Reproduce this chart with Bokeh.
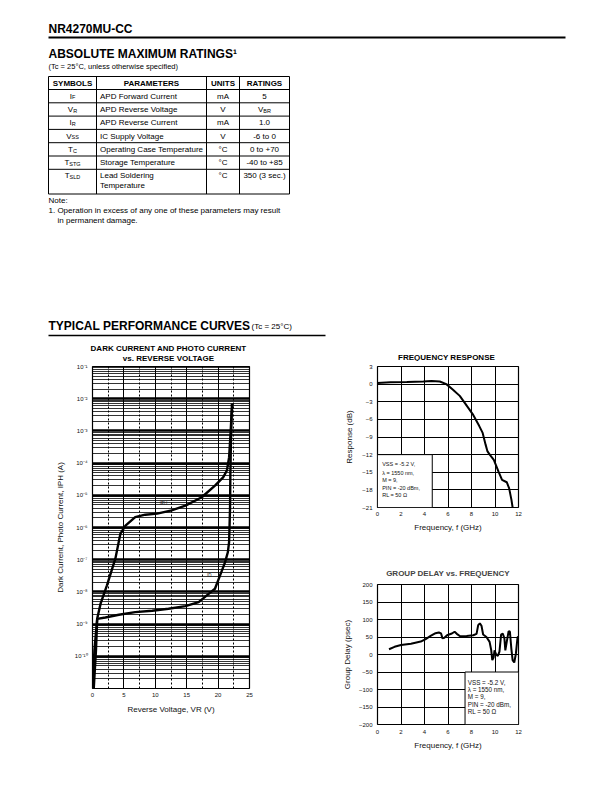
from bokeh.plotting import figure
from bokeh.layouts import column, row
from bokeh.models import Range1d, FixedTicker, CustomJSTickFormatter, Title
from bokeh.core.properties import value
from bokeh.embed import file_html
from bokeh.resources import INLINE

FONT = "Liberation Sans"

# ---------------- page texts / table data ----------------
part_number = "NR4270MU-CC"
ratings_title = "ABSOLUTE MAXIMUM RATINGS\u00b9"
ratings_cond = "(Tc = 25\u00b0C, unless otherwise specified)"
table_header = ["SYMBOLS", "PARAMETERS", "UNITS", "RATINGS"]
sym_base = ["I", "V", "I", "V", "T", "T", "T"]
sym_sub = ["F", "R", "R", "SS", "C", "STG", "SLD"]
params = [["APD Forward Current"], ["APD Reverse Voltage"], ["APD Reverse Current"],
          ["IC Supply Voltage"], ["Operating Case Temperature"], ["Storage Temperature"],
          ["Lead Soldering", "Temperature"]]
units = ["mA", "V", "mA", "V", "\u00b0C", "\u00b0C", "\u00b0C"]
rating_base = ["5", "V", "1.0", "-6 to 0", "0 to +70", "-40 to +85", "350 (3 sec.)"]
rating_sub = ["", "BR", "", "", "", "", ""]
note_lines = ["Note:", "1.  Operation in excess of any one of these parameters may result",
              "in permanent damage."]
section_title = "TYPICAL PERFORMANCE CURVES"
section_cond = "(Tc = 25\u00b0C)"

# ---------------- chart 1: dark / photo current ----------------
dc_title = ["DARK CURRENT AND PHOTO CURRENT", "vs. REVERSE VOLTAGE"]
dc_xlabel = "Reverse Voltage, VR (V)"
dc_ylabel = "Dark Current, Photo Current, IPH (A)"
dc_xticks = [0, 5, 10, 15, 20, 25]
dc_xminor = [2.5, 7.5, 12.5, 17.5, 22.5]
dc_yticks = [1e-10, 1e-9, 1e-8, 1e-7, 1e-6, 1e-5, 1e-4, 1e-3, 1e-2, 1e-1]
dc_ylabels = ["10\u207b\u00b9\u2070", "10\u207b\u2079", "10\u207b\u2078", "10\u207b\u2077",
              "10\u207b\u2076", "10\u207b\u2075", "10\u207b\u2074", "10\u207b\u00b3",
              "10\u207b\u00b2", "10\u207b\u00b9"]
dc_yminor = [m * d for d in [1e-11, 1e-10, 1e-9, 1e-8, 1e-7, 1e-6, 1e-5, 1e-4, 1e-3, 1e-2]
             for m in [2, 3, 4, 5, 6, 7, 8, 9]]

ph_v = [0.05, 0.3, 0.75, 1.3, 2.3, 3.65, 4.45, 5.25, 6.8, 8.4, 10.3, 12.6, 14.8, 17.4,
        19.5, 20.8, 21.4, 21.75, 21.95, 22.15, 22.3]
ph_i = [1e-11, 1.5e-10, 1.5e-9, 4.4e-9, 1.6e-8, 1.1e-7, 6.5e-7, 1.15e-6, 2.1e-6, 2.5e-6,
        2.7e-6, 3.4e-6, 4.8e-6, 8.7e-6, 2.0e-5, 3.6e-5, 5.9e-5, 1.5e-4, 6.3e-4, 3.5e-3, 7.0e-3]
dk_v = [0.2, 0.55, 0.75, 2.05, 4.2, 6.8, 9.5, 12.1, 14.8, 16.9, 18.5, 19.5, 20.3, 21.1,
        21.55, 21.75, 21.9, 21.95, 22.05, 22.2]
dk_i = [1e-11, 1.5e-10, 1.45e-9, 1.6e-9, 1.95e-9, 2.35e-9, 2.6e-9, 3.0e-9, 3.6e-9, 4.8e-9,
        8.7e-9, 1.25e-8, 3.2e-8, 8.3e-8, 1.7e-7, 3.5e-7, 3.8e-6, 4.1e-5, 5.0e-4, 7.0e-3]
ph_tag = ("IPH", 11.3, 5.6e-6)
dk_tag = ("ID", 18.6, 3.2e-8)

# ---------------- chart 2: frequency response ----------------
fr_title = "FREQUENCY RESPONSE"
fr_xlabel = "Frequency, f (GHz)"
fr_ylabel = "Response (dB)"
fr_xticks = [0, 2, 4, 6, 8, 10, 12]
fr_yticks = [3, 0, -3, -6, -9, -12, -15, -18, -21]
fr_f = [0, 1.1, 2.5, 3.9, 4.6, 5.3, 5.86, 6.4, 7.0, 7.5, 8.1, 8.65, 8.95, 9.2, 9.35, 9.55,
        9.9, 10.3, 10.6, 11.0, 11.2, 11.4, 11.5]
fr_db = [0.2, 0.3, 0.35, 0.45, 0.55, 0.45, 0.0, -0.9, -2.0, -3.4, -5.1, -7.1, -8.3, -10.3,
         -11.4, -12.0, -12.9, -14.9, -16.3, -16.7, -17.7, -19.7, -21.0]
fr_notes = ["VSS = -5.2 V,", "\u03bb = 1550 nm,", "M = 9,", "PIN = -20 dBm,", "RL = 50 \u03a9"]

# ---------------- chart 3: group delay ----------------
gd_title = "GROUP DELAY vs. FREQUENCY"
gd_xlabel = "Frequency, f (GHz)"
gd_ylabel = "Group Delay (psec)"
gd_xticks = [0, 2, 4, 6, 8, 10, 12]
gd_yticks = [200, 150, 100, 50, 0, -50, -100, -150, -200]
gd_f = [0.98, 1.45, 2.0, 2.85, 3.68, 4.1, 4.52, 4.94, 5.22, 5.41, 5.53, 5.69, 5.92, 6.33,
        6.56, 6.75, 7.03, 7.59, 8.15, 8.43, 8.57, 8.71, 8.85, 8.99, 9.27, 9.54, 9.68, 9.77,
        9.88, 9.96, 10.1, 10.24, 10.38, 10.52, 10.66, 10.8, 10.88, 11.0, 11.16, 11.27,
        11.39, 11.5, 11.64, 11.78, 11.92, 12.0]
gd_ps = [15, 22, 27, 31, 37, 44, 53, 61, 63, 60, 46, 48, 55, 60, 65, 59, 52, 53, 55, 59,
         84, 89, 82, 57, 50, 36, 12, -16, -9, 12, 0, -4, 8, 57, 60, 46, 12, 36, 67, 65,
         17, -16, -23, 3, 50, 50]
gd_notes = ["VSS = -5.2 V,", "\u03bb = 1550 nm,", "M = 9,", "PIN = -20 dBm,", "RL = 50 \u03a9"]

# ---------------- helpers ----------------
CW = {"I": .278, "V": .667, "T": .611, "F": .611, "R": .722, "S": .667, "C": .722,
      "G": .778, "L": .556, "D": .722, "B": .667}
TXT = "black"


def txt(fig, x, y, s, size, style="normal", align="left", baseline="middle",
        color=TXT, angle=0):
    fig.text(x=[x], y=[y], text=[s], text_font=value(FONT), text_font_size=size,
             text_font_style=style, text_align=align, text_baseline=baseline,
             text_color=color, angle=angle)


def sub_txt(fig, cx, y, base, sub, bsize=8, ssize=5.5):
    wb = sum(CW.get(c, .556) for c in base) * bsize
    ws = sum(CW.get(c, .6) for c in sub) * ssize
    x0 = cx - (wb + ws) / 2
    txt(fig, x0, y, base, f"{bsize}px")
    if sub:
        txt(fig, x0 + wb, y + 1.3, sub, f"{ssize}px")


# ---------------- top part of the page (down to the chart frames) ----------------
TOP_H = 361
top = figure(width=612, height=TOP_H, x_range=Range1d(0, 612), y_range=Range1d(TOP_H, 0),
             x_axis_type=None, y_axis_type=None, output_backend="svg",
             toolbar_location=None, min_border=0, outline_line_color=None)
top.grid.visible = False

txt(top, 48, 28, part_number, "12px", "bold")
top.line(x=[48, 565], y=[37, 37], line_color="black", line_width=2)
txt(top, 48, 53, ratings_title, "12px", "bold")
txt(top, 48, 66, ratings_cond, "7.5px")

col_x = [48, 96, 206, 239, 289]
row_y = [76, 89, 102.3, 115.6, 128.9, 142.2, 155.5, 168.8, 193.5]
top.segment(x0=[col_x[0]] * len(row_y), x1=[col_x[-1]] * len(row_y), y0=row_y, y1=row_y,
            line_color="black", line_width=1)
top.segment(x0=col_x, x1=col_x, y0=[row_y[0]] * len(col_x), y1=[row_y[-1]] * len(col_x),
            line_color="black", line_width=1)
hdr_cx = [(col_x[i] + col_x[i + 1]) / 2 for i in range(4)]
for i, h in enumerate(table_header):
    txt(top, hdr_cx[i], (row_y[0] + row_y[1]) / 2, h, "8px", "bold", "center")
for r in range(7):
    yc = (row_y[r + 1] + row_y[r + 2]) / 2 if r < 6 else row_y[7] + 6.2
    sub_txt(top, hdr_cx[0], yc, sym_base[r], sym_sub[r])
    for k, line in enumerate(params[r]):
        txt(top, col_x[1] + 3.5, yc + k * 10, line, "8px")
    txt(top, hdr_cx[2], yc, units[r], "8px", align="center")
    if rating_sub[r]:
        sub_txt(top, hdr_cx[3], yc, rating_base[r], rating_sub[r])
    else:
        txt(top, hdr_cx[3], yc, rating_base[r], "8px", align="center")

txt(top, 48, 200, note_lines[0], "8px")
txt(top, 48, 210, note_lines[1], "8px")
txt(top, 57, 219.5, note_lines[2], "8px")

txt(top, 48, 325, section_title, "12px", "bold")
txt(top, 251, 326, section_cond, "8px")
top.line(x=[48, 325], y=[335, 335], line_color="black", line_width=1.5)

# chart titles (they sit above the chart frames)
txt(top, 168, 347.5, dc_title[0], "8px", "bold", "center")
txt(top, 168, 357.5, dc_title[1], "8px", "bold", "center")
txt(top, 446, 356.5, fr_title, "8px", "bold", "center")


def style_axes(p, tick_size="6px", label_size="8px"):
    for ax in (p.xaxis, p.yaxis):
        ax.major_tick_line_color = None
        ax.minor_tick_line_color = None
        ax.major_tick_out = 0
        ax.major_tick_in = 0
        ax.minor_tick_out = 0
        ax.minor_tick_in = 0
        ax.axis_line_color = None
        ax.major_label_text_font = FONT
        ax.major_label_text_font_size = tick_size
        ax.major_label_text_color = "#111"
        ax.axis_label_text_font = FONT
        ax.axis_label_text_font_size = label_size
        ax.axis_label_text_font_style = "normal"
        ax.axis_label_text_color = "#111"
    p.outline_line_color = "black"
    p.outline_line_width = 1.2


# ---------------- chart 1 ----------------
dc = figure(width=330, height=792 - TOP_H, x_range=Range1d(0, 25),
            y_range=Range1d(1e-11, 1e-1), y_axis_type="log", output_backend="svg",
            toolbar_location=None, min_border_left=92, min_border_right=81,
            min_border_top=366 - TOP_H, min_border_bottom=104, title=None)
style_axes(dc, label_size="8px")
dc.xaxis.ticker = FixedTicker(ticks=dc_xticks, minor_ticks=dc_xminor)
dc.yaxis.ticker = FixedTicker(ticks=dc_yticks, minor_ticks=dc_yminor)
dc.yaxis.formatter = CustomJSTickFormatter(args=dict(vals=dc_yticks, labs=dc_ylabels), code="""
let best = 0, bd = Infinity;
for (let i = 0; i < vals.length; i++) {
  const d = Math.abs(Math.log10(vals[i]) - Math.log10(tick));
  if (d < bd) { bd = d; best = i; }
}
return labs[best];
""")
dc.xaxis.axis_label = dc_xlabel
dc.yaxis.axis_label = dc_ylabel
dc.xaxis.major_label_standoff = 4
dc.xaxis.axis_label_standoff = 5
dc.yaxis.major_label_standoff = 5
dc.yaxis.axis_label_standoff = 7
dc.xgrid.grid_line_color = "black"
dc.xgrid.grid_line_width = 1
dc.xgrid.minor_grid_line_color = "black"
dc.xgrid.minor_grid_line_width = 1
dc.xgrid.minor_grid_line_dash = "2 2"
dc.ygrid.grid_line_color = "black"
dc.ygrid.grid_line_width = 2.6
dc.ygrid.minor_grid_line_color = "black"
dc.ygrid.minor_grid_line_width = 0.8
dc.line(ph_v, ph_i, line_color="black", line_width=2.4)
dc.line(dk_v, dk_i, line_color="black", line_width=2.4)
dc.text(x=[ph_tag[1], dk_tag[1]], y=[ph_tag[2], dk_tag[2]], text=[ph_tag[0], dk_tag[0]],
        text_font=value(FONT), text_font_size="4.5px", text_align="center",
        text_baseline="middle", text_color="#222")

# ---------------- chart 2 ----------------
fr = figure(width=282, height=545 - TOP_H, x_range=Range1d(0, 12), y_range=Range1d(-21, 3),
            output_backend="svg", toolbar_location=None, min_border_left=47,
            min_border_right=92, min_border_top=366 - TOP_H, min_border_bottom=38, title=None)
style_axes(fr)
fr.xaxis.ticker = FixedTicker(ticks=fr_xticks)
fr.yaxis.ticker = FixedTicker(ticks=fr_yticks)
fr.xaxis.axis_label = fr_xlabel
fr.yaxis.axis_label = fr_ylabel
fr.xaxis.major_label_standoff = 4
fr.xaxis.axis_label_standoff = 4
fr.yaxis.major_label_standoff = 5
fr.yaxis.axis_label_standoff = 5
for g in (fr.xgrid, fr.ygrid):
    g.grid_line_color = "black"
    g.grid_line_width = 1
fr.quad(left=[0], right=[4.66], bottom=[-21], top=[-12], fill_color="white",
        line_color="black", line_width=1)
fr.text(x=[0.4] * 5, y=[-13.6, -15.2, -16.4, -17.6, -18.8], text=fr_notes,
        text_font=value(FONT), text_font_size="5.5px", text_baseline="middle",
        text_color="#111")
fr.line(fr_f, fr_db, line_color="black", line_width=2)

# ---------------- chart 3 ----------------
gd = figure(width=282, height=247, x_range=Range1d(0, 12), y_range=Range1d(-200, 200),
            output_backend="svg", toolbar_location=None, min_border_left=45,
            min_border_right=94, min_border_top=39, min_border_bottom=68, title=None)
gd.add_layout(Title(text=gd_title, align="center", text_font=FONT, text_font_size="8px",
                    text_font_style="bold", standoff=14), "above")
style_axes(gd)
gd.xaxis.ticker = FixedTicker(ticks=gd_xticks)
gd.yaxis.ticker = FixedTicker(ticks=gd_yticks)
gd.xaxis.axis_label = gd_xlabel
gd.yaxis.axis_label = gd_ylabel
gd.xaxis.major_label_standoff = 5
gd.xaxis.axis_label_standoff = 4
gd.yaxis.major_label_standoff = 5
gd.yaxis.axis_label_standoff = 4
for g in (gd.xgrid, gd.ygrid):
    g.grid_line_color = "black"
    g.grid_line_width = 1
gd.quad(left=[7.45], right=[12], bottom=[-200], top=[-50], fill_color="white",
        line_color="black", line_width=1)
gd.text(x=[7.68] * 5, y=[-80, -101, -121, -143, -164], text=gd_notes,
        text_font=value(FONT), text_font_size="6.3px", text_baseline="middle",
        text_color="#111")
gd.line(gd_f, gd_ps, line_color="black", line_width=2)

page = column(top, row(dc, column(fr, gd, spacing=0), spacing=0), spacing=0)
html = file_html(page, INLINE, title="NR4270MU-CC")
html = html.replace("<body>", '<body style="margin:0;padding:0">', 1)
open("out.html", "w").write(html)
